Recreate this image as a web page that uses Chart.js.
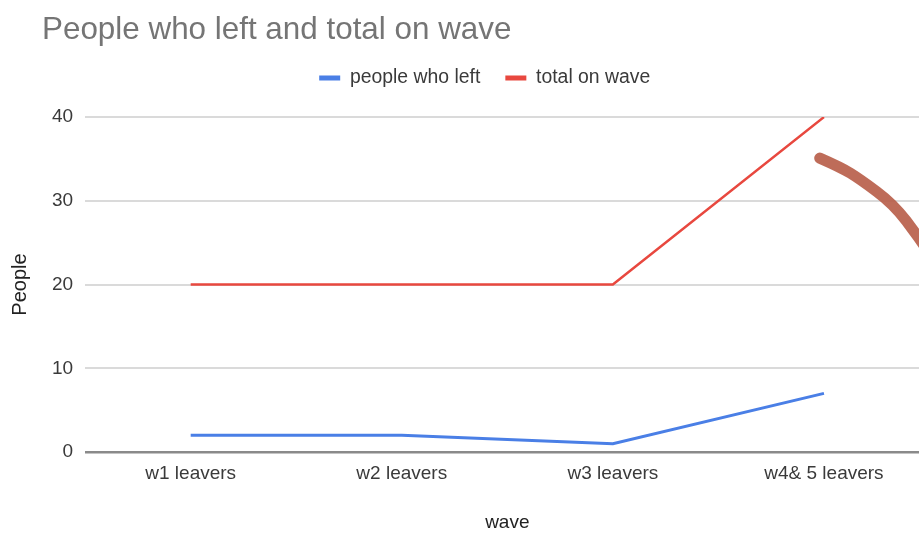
<!DOCTYPE html>
<html>
<head>
<meta charset="utf-8">
<script src="https://cdn.jsdelivr.net/npm/chart.js@4.4.1/dist/chart.umd.min.js"></script>
<style>
  html, body { margin: 0; padding: 0; overflow: hidden; background: #fff; }
  #grafico { display: block; }
</style>
</head>
<body>
<canvas id="grafico" width="940" height="534"></canvas>
<script>
// Dados
const ondas = ['w1 leavers', 'w2 leavers', 'w3 leavers', 'w4& 5 leavers'];
const sairam = [2, 2, 1, 7];
const totalNaOnda = [20, 20, 20, 40];
const ticksY = [0, 10, 20, 30, 40];

// traço à mão (anotação) em coordenadas do gráfico: [índice da categoria, valor]
const rabisco = [[2.98, 35.1], [3.08, 34.0], [3.17, 32.6], [3.33, 29.6], [3.45, 25.6], [3.56, 21.5]];

const fonte = "'Liberation Sans', Arial, sans-serif";

// desloca título e legenda para onde estão na imagem
const ajustes = {
  id: 'ajustes',
  beforeInit(chart) {
    const fitOriginal = chart.legend.fit;
    chart.legend.fit = function () {
      fitOriginal.bind(chart.legend)();
      this.height += 19.5;
    };
  },
  afterUpdate(chart) {
    chart.titleBlock.left += 42;
    chart.titleBlock.right += 42;
    chart.legend.left += 20;
    chart.legend.right += 20;
  },
  afterDraw(chart) {
    const { ctx, scales: { x, y } } = chart;
    ctx.save();
    ctx.strokeStyle = 'rgba(185, 95, 75, 0.92)';
    ctx.lineWidth = 11;
    ctx.lineCap = 'round';
    ctx.lineJoin = 'round';
    ctx.beginPath();
    const pts = rabisco.map(p => [x.getPixelForValue(p[0]), y.getPixelForValue(p[1])]);
    ctx.moveTo(pts[0][0], pts[0][1]);
    for (let i = 1; i < pts.length - 1; i++) {
      const mx = (pts[i][0] + pts[i + 1][0]) / 2;
      const my = (pts[i][1] + pts[i + 1][1]) / 2;
      ctx.quadraticCurveTo(pts[i][0], pts[i][1], mx, my);
    }
    const ult = pts[pts.length - 1];
    ctx.lineTo(ult[0], ult[1]);
    ctx.stroke();
    ctx.restore();
  }
};

const ctx = document.getElementById('grafico');

new Chart(ctx, {
  type: 'line',
  data: {
    labels: ondas,
    datasets: [
      {
        label: 'people who left',
        data: sairam,
        borderColor: '#4a7fe6',
        backgroundColor: '#4a7fe6',
        borderWidth: 3,
        pointRadius: 0,
        tension: 0
      },
      {
        label: 'total on wave',
        data: totalNaOnda,
        borderColor: '#e8483f',
        backgroundColor: '#e8483f',
        borderWidth: 2.5,
        pointRadius: 0,
        tension: 0
      }
    ]
  },
  options: {
    responsive: false,
    animation: false,
    layout: { padding: { left: 0, right: 10.5, top: 0, bottom: 0 } },
    scales: {
      x: {
        offset: true,
        grid: { display: false, drawTicks: false },
        border: { display: false },
        ticks: {
          padding: 10,
          color: '#3a3a3a',
          font: { family: fonte, size: 19 },
          maxRotation: 0,
          autoSkip: false
        },
        title: {
          display: true,
          text: 'wave',
          color: '#222',
          font: { family: fonte, size: 19 },
          padding: { top: 16.4, bottom: 0 }
        }
      },
      y: {
        min: 0,
        max: 40,
        afterBuildTicks(scale) {
          scale.ticks = ticksY.map(v => ({ value: v }));
        },
        grid: {
          drawTicks: false,
          color: c => (c.tick && c.tick.value === 0 ? '#8a8a8a' : '#dadada'),
          lineWidth: c => (c.tick && c.tick.value === 0 ? 2.5 : 2)
        },
        border: { display: false },
        ticks: {
          padding: 12,
          color: '#3a3a3a',
          font: { family: fonte, size: 19 }
        },
        title: {
          display: true,
          text: 'People',
          color: '#222',
          font: { family: fonte, size: 20 },
          padding: { top: 8, bottom: 8 }
        }
      }
    },
    plugins: {
      title: {
        display: true,
        text: 'People who left and total on wave',
        align: 'start',
        color: '#757575',
        font: { family: fonte, size: 31.4, weight: 'normal', lineHeight: 0.85 },
        padding: { top: 16.5, bottom: 0 }
      },
      legend: {
        display: true,
        position: 'top',
        align: 'center',
        labels: {
          boxWidth: 21,
          boxHeight: 5,
          padding: 25,
          color: '#3a3a3a',
          font: { family: fonte, size: 19.4 },
          generateLabels(chart) {
            return Chart.defaults.plugins.legend.labels.generateLabels(chart)
              .map(l => ({ ...l, lineWidth: 0 }));
          }
        }
      },
      tooltip: { enabled: false }
    }
  },
  plugins: [ajustes]
});
</script>
</body>
</html>
